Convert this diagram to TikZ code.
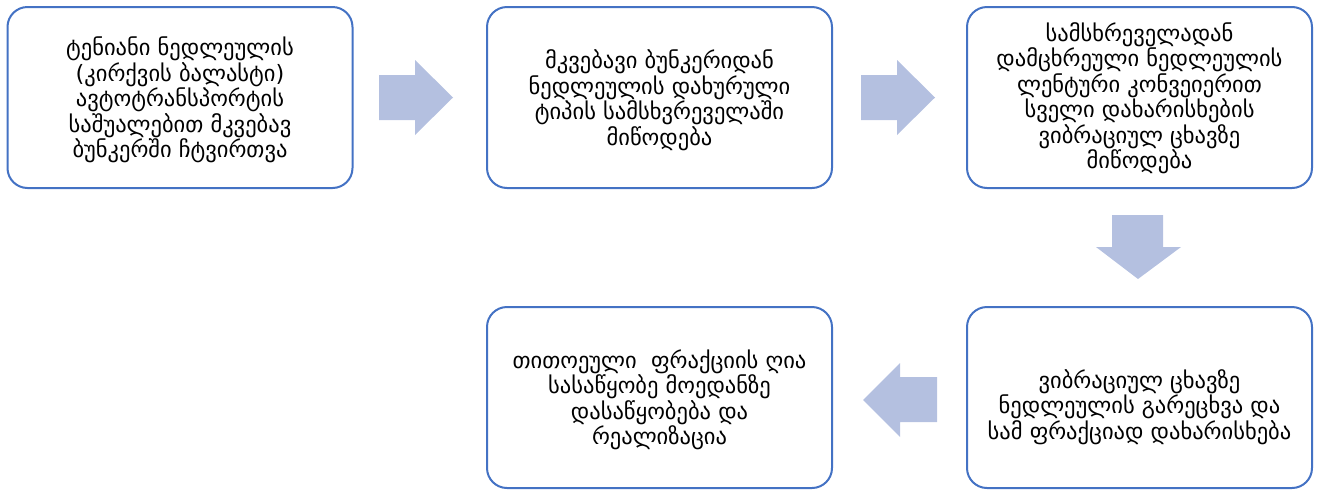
\documentclass[tikz,border=0pt]{standalone}
\usepackage{fontspec}
\setmainfont{DejaVu Sans}
\newfontfamily\geo[Script=Georgian]{DejaVu Sans}
\definecolor{boxblue}{HTML}{4472C4}
\definecolor{arrfill}{HTML}{B4C0E0}
\tikzset{
  stepbox/.style={draw=boxblue, line width=2pt, rounded corners=20pt, fill=white,
    minimum width=345pt, minimum height=181pt, inner sep=0pt},
  steptext/.style={align=center, font=\geo\fontsize{22.5}{25.5}\selectfont, text=black, inner sep=0pt},
  blockarrow/.style={fill=arrfill, draw=none}
}
\begin{document}
\begin{tikzpicture}[x=1pt,y=-1pt]
\useasboundingbox (0,0) rectangle (1317,491);
% boxes
\node[stepbox] (b1) at (180,97.5) {};
\node[stepbox] (b2) at (659.5,97.5) {};
\node[stepbox] (b3) at (1139.5,97.5) {};
\node[stepbox] (b5) at (1139.5,397.5) {};
\node[stepbox] (b4) at (659.5,397.5) {};
% texts
\node[steptext] (t1) at (180,100) {ტენიანი ნედლეულის\\(კირქვის ბალასტი)\\ავტოტრანსპორტის\\საშუალებით მკვებავ\\ბუნკერში ჩტვირთვა};
\node[steptext] (t2) at (659.5,100) {მკვებავი ბუნკერიდან\\ნედლეულის დახურული\\ტიპის სამსხვრეველაში\\მიწოდება};
\node[steptext] (t3) at (1139.5,98) {სამსხრეველადან\\დამცხრეული ნედლეულის\\ლენტური კონვეიერით\\სველი დახარისხების\\ვიბრაციულ ცხავზე\\მიწოდება};
\node[steptext] (t5) at (1139.5,407) {ვიბრაციულ ცხავზე\\ნედლეულის გარეცხვა და\\სამ ფრაქციად დახარისხება};
\node[steptext] (t4) at (659.5,400) {თითოეული ~ფრაქციის ღია\\სასაწყობე მოედანზე\\დასაწყობება და\\რეალიზაცია};
% block arrows
\fill[blockarrow] (379,75) -- (415,75) -- (415,60) -- (453,97.5) -- (415,135) -- (415,120) -- (379,120) -- cycle;
\fill[blockarrow] (861,75) -- (897,75) -- (897,60) -- (935,97.5) -- (897,135) -- (897,120) -- (861,120) -- cycle;
\fill[blockarrow] (1112,215) -- (1163,215) -- (1163,247) -- (1181,247) -- (1138,279) -- (1096,247) -- (1112,247) -- cycle;
\fill[blockarrow] (937,377) -- (900,377) -- (900,363) -- (863,400) -- (900,437) -- (900,422) -- (937,422) -- cycle;
\end{tikzpicture}
\end{document}
